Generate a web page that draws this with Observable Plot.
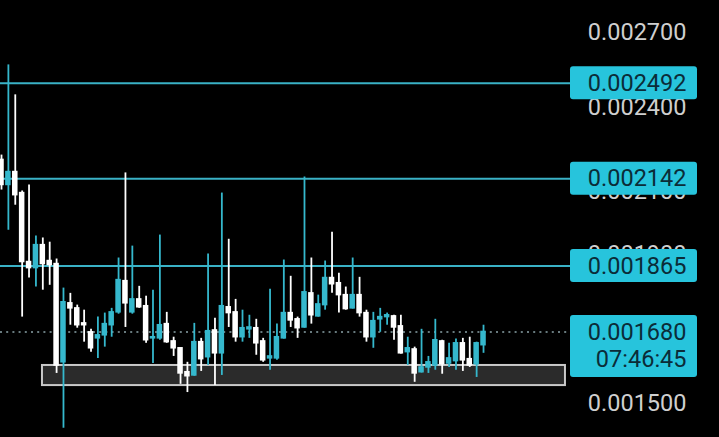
<!DOCTYPE html>
<html>
<head>
<meta charset="utf-8">
<script src="https://cdn.jsdelivr.net/npm/d3@7"></script>
<script src="https://cdn.jsdelivr.net/npm/@observablehq/plot@0.6"></script>
<style>
  html, body { margin: 0; padding: 0; background: #000; }
  #chart svg { display: block; }
</style>
</head>
<body>
<div id="chart"></div>
<script>
// ---- data ----
const opens = [
  0.002207, 0.002121, 0.002165, 0.002094, 0.001877, 0.001859, 0.001928, 0.001880, 0.001871, 0.001601,
  0.001758, 0.001744, 0.001703, 0.001679, 0.001663, 0.001671, 0.001698, 0.001733, 0.001821, 0.001733,
  0.001769, 0.001750, 0.001663, 0.001663, 0.001701, 0.001655, 0.001637, 0.001576, 0.001568, 0.001653,
  0.001614, 0.001684, 0.001624, 0.001747, 0.001733, 0.001666, 0.001687, 0.001690, 0.001655, 0.001611,
  0.001611, 0.001663, 0.001731, 0.001714, 0.001692, 0.001786, 0.001722, 0.001753, 0.001830, 0.001815,
  0.001781, 0.001744, 0.001781, 0.001731, 0.001666, 0.001714, 0.001720, 0.001722, 0.001695, 0.001627,
  0.001634, 0.001576, 0.001588, 0.001593, 0.001655, 0.001598, 0.001604, 0.001650, 0.001609, 0.001596, 0.001645
];
const highs = [
  0.002224, 0.002566, 0.002447, 0.002101, 0.002121, 0.001956, 0.001950, 0.001937, 0.001886, 0.001801,
  0.001786, 0.001753, 0.001739, 0.001687, 0.001720, 0.001731, 0.001744, 0.001889, 0.002162, 0.001925,
  0.001806, 0.001778, 0.001795, 0.001959, 0.001733, 0.001666, 0.001637, 0.001601, 0.001703, 0.001663,
  0.001901, 0.001717, 0.002094, 0.001946, 0.001769, 0.001739, 0.001725, 0.001714, 0.001663, 0.001798,
  0.001701, 0.001883, 0.001835, 0.001720, 0.002148, 0.001889, 0.001781, 0.001880, 0.001968, 0.001844,
  0.001804, 0.001889, 0.001832, 0.001739, 0.001733, 0.001744, 0.001731, 0.001725, 0.001725, 0.001666,
  0.001640, 0.001687, 0.001616, 0.001714, 0.001658, 0.001650, 0.001661, 0.001663, 0.001666, 0.001653, 0.001698
];
const lows = [
  0.002104, 0.001974, 0.002054, 0.001720, 0.001830, 0.001804, 0.001795, 0.001809, 0.001573, 0.001442,
  0.001698, 0.001690, 0.001653, 0.001627, 0.001611, 0.001640, 0.001666, 0.001728, 0.001692, 0.001728,
  0.001744, 0.001650, 0.001598, 0.001658, 0.001650, 0.001616, 0.001546, 0.001526, 0.001566, 0.001578,
  0.001593, 0.001543, 0.001568, 0.001692, 0.001653, 0.001653, 0.001663, 0.001619, 0.001601, 0.001581,
  0.001606, 0.001661, 0.001692, 0.001663, 0.001690, 0.001701, 0.001720, 0.001739, 0.001786, 0.001731,
  0.001739, 0.001742, 0.001720, 0.001653, 0.001637, 0.001679, 0.001698, 0.001658, 0.001622, 0.001593,
  0.001551, 0.001574, 0.001573, 0.001581, 0.001571, 0.001588, 0.001581, 0.001578, 0.001588, 0.001563, 0.001624
];
const closes = [
  0.002121, 0.002165, 0.002087, 0.001877, 0.001859, 0.001928, 0.001871, 0.001868, 0.001593, 0.001761,
  0.001744, 0.001698, 0.001698, 0.001637, 0.001671, 0.001701, 0.001733, 0.001824, 0.001758, 0.001769,
  0.001747, 0.001658, 0.001666, 0.001698, 0.001653, 0.001637, 0.001573, 0.001566, 0.001653, 0.001609,
  0.001682, 0.001624, 0.001750, 0.001731, 0.001666, 0.001690, 0.001692, 0.001650, 0.001606, 0.001616,
  0.001666, 0.001731, 0.001711, 0.001690, 0.001789, 0.001725, 0.001755, 0.001830, 0.001812, 0.001781,
  0.001742, 0.001781, 0.001731, 0.001666, 0.001709, 0.001720, 0.001725, 0.001692, 0.001624, 0.001637,
  0.001573, 0.001588, 0.001601, 0.001658, 0.001596, 0.001611, 0.001650, 0.001606, 0.001593, 0.001650, 0.001680
];
const levelPrices = [0.002492, 0.002142, 0.001865];
const lastPrice = 0.001680;
const countdown = "07:46:45";
const tickValues = [0.0027, 0.0024, 0.0021, 0.0019, 0.0015];
// demand zone: bar-index span and price span
const zoneBars = [5.95, 81.9];
const zonePrices = [0.001543, 0.001593];

// ---- build table ----
const candles = opens.map((o, i) => ({
  i, open: o, high: highs[i], low: lows[i], close: closes[i], up: closes[i] >= o
}));
const ups = candles.filter(d => d.up);
const downs = candles.filter(d => !d.up);

// ---- layout / style ----
const W = 719, H = 437;
const pxPerBar = 6.886, firstBarPx = 1;
const xLo = -firstBarPx / pxPerBar, xHi = xLo + W / pxPerBar;
const TEAL = "#35b8cd", WHITE = "#ffffff", LINE = "#3ab2c6", LABEL = "#27c4dc";
const TXT_DARK = "#0b2c38", TXT_GRAY = "#cfcfcf";
const FONT = "Roboto, 'Noto Sans', sans-serif";
const labelLeft = 570, labelRight = 697, textRight = 686;

const fmt = v => v.toFixed(6);
const bodyHalf = 0.4;

function candleMarks(data, color) {
  return [
    Plot.ruleX(data, {x: "i", y1: "low", y2: "high", stroke: color, strokeWidth: 1.8}),
    Plot.rect(data, {
      x1: d => d.i - bodyHalf, x2: d => d.i + bodyHalf,
      y1: d => Math.min(d.open, d.close), y2: d => Math.max(d.open, d.close),
      insetTop: -0.75, insetBottom: -0.75, fill: color
    })
  ];
}

const chart = Plot.plot({
  width: W, height: H,
  marginLeft: 0, marginRight: 0, marginTop: 0, marginBottom: 0,
  style: {background: "#000", fontFamily: FONT},
  x: {domain: [xLo, xHi], axis: null},
  y: {type: "log", domain: [0.001421, 0.002842], range: [H, 0], axis: null},
  marks: [
    // demand zone
    Plot.rect([0], {x1: () => zoneBars[0], x2: () => zoneBars[1],
      y1: () => zonePrices[0], y2: () => zonePrices[1],
      fill: "#2b2b2b", stroke: "#c9c9c9", strokeWidth: 2}),
    // level lines
    Plot.ruleY(levelPrices, {stroke: LINE, strokeWidth: 2, insetRight: W - labelLeft}),
    // current price dotted line
    Plot.ruleY([lastPrice], {stroke: "#8aa3a8", strokeWidth: 1.6, strokeDasharray: "2,4.2", insetRight: W - 567}),
    // candles
    ...candleMarks(downs, WHITE),
    ...candleMarks(ups, TEAL),
    // price axis tick labels
    Plot.text(tickValues, {y: d => d, text: fmt, frameAnchor: "right", dx: -(W - textRight),
      textAnchor: "end", fill: TXT_GRAY, fontSize: 23.5}),
    // level label boxes
    Plot.rect(levelPrices, {y1: d => d, y2: d => d, insetLeft: labelLeft, insetRight: W - labelRight,
      insetTop: -16.5, insetBottom: -16.5, rx: 3, fill: LABEL}),
    Plot.text(levelPrices, {y: d => d, text: fmt, frameAnchor: "right", dx: -(W - textRight),
      textAnchor: "end", fill: TXT_DARK, fontSize: 23.5}),
    // last price box
    Plot.rect([lastPrice], {y1: d => d, y2: d => d, insetLeft: labelLeft, insetRight: W - labelRight,
      insetTop: -16.5, insetBottom: -45.5, rx: 3, fill: LABEL}),
    Plot.text([lastPrice], {y: d => d, text: fmt, frameAnchor: "right", dx: -(W - textRight), dy: 1,
      textAnchor: "end", fill: TXT_DARK, fontSize: 23.5}),
    Plot.text([lastPrice], {y: d => d, text: () => countdown, frameAnchor: "right", dx: -(W - textRight), dy: 28,
      textAnchor: "end", fill: TXT_DARK, fontSize: 23.5})
  ]
});
document.getElementById("chart").appendChild(chart);
</script>
</body>
</html>
